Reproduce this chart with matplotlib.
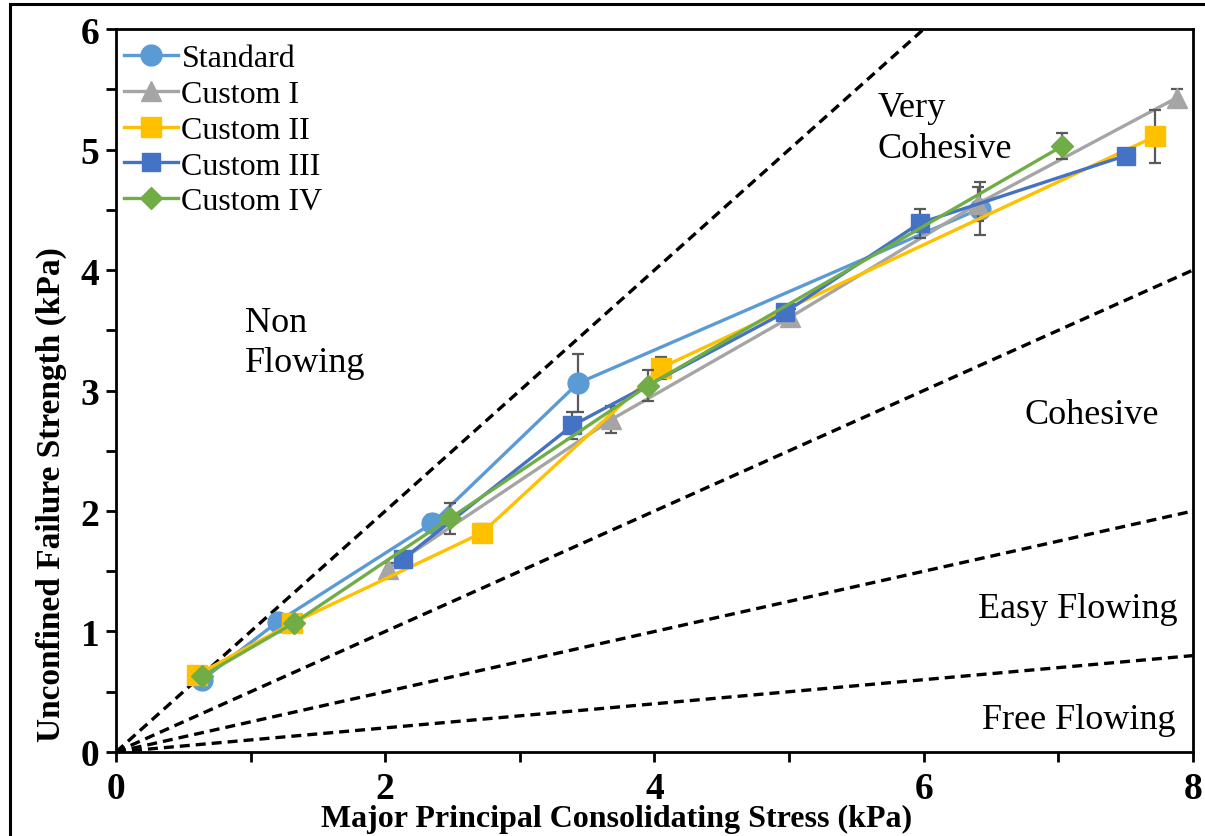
import numpy as np
import matplotlib.pyplot as plt
from matplotlib.patches import Rectangle
from matplotlib.ticker import MultipleLocator

plt.rcParams['font.family'] = ['Liberation Serif', 'DejaVu Serif']

# Flow-function data: major principal stress vs unconfined failure strength (kPa)
std_x = [0.64, 1.20, 2.35, 3.43, 6.42]
std_y = [0.60, 1.08, 1.90, 3.06, 4.51]
std_err = [0.03, 0.03, 0.07, 0.24, 0.22]

c1_x = [2.02, 3.68, 5.01, 6.40, 7.88]
c1_y = [1.52, 2.76, 3.61, 4.55, 5.43]
c1_err = [0.05, 0.11, 0.07, 0.14, 0.07]

c2_x = [0.60, 1.31, 2.72, 4.05, 7.72]
c2_y = [0.64, 1.07, 1.82, 3.19, 5.11]
c2_err = [0.03, 0.03, 0.07, 0.09, 0.22]

c3_x = [2.13, 3.39, 4.97, 5.97, 7.50]
c3_y = [1.60, 2.71, 3.65, 4.39, 4.95]
c3_err = [0.05, 0.11, 0.05, 0.12, 0.03]

c4_x = [0.64, 1.32, 2.48, 3.95, 7.03]
c4_y = [0.63, 1.07, 1.94, 3.04, 5.03]
c4_err = [0.03, 0.03, 0.13, 0.13, 0.11]

# Jenike flow-function boundaries (ffc = sigma1 / fc)
ffc_limits = [1, 2, 4, 10]

series = [
    ('Standard', std_x, std_y, std_err, '#5B9BD5', 'o', 15),
    ('Custom I', c1_x, c1_y, c1_err, '#A5A5A5', '^', 15),
    ('Custom II', c2_x, c2_y, c2_err, '#FFC000', 's', 14),
    ('Custom III', c3_x, c3_y, c3_err, '#4472C4', 's', 13),
    ('Custom IV', c4_x, c4_y, c4_err, '#70AD47', 'D', 11),
]

fig = plt.figure(figsize=(12.05, 8.37), dpi=100)
ax = fig.add_axes([0.0963, 0.1004, 0.8937, 0.8636])

sig = np.array([0, 8])
for ffc in ffc_limits:
    ax.plot(sig, sig / ffc, color='black', lw=2.4, dashes=(3, 1.8), zorder=1)

for i, (name, x, y, err, col, mk, ms) in enumerate(series):
    ax.errorbar(x, y, yerr=err, fmt='none', ecolor='#595959', elinewidth=1.6,
                capsize=4, capthick=1.6, zorder=2 + 2 * i)
    ax.plot(x, y, color=col, lw=2.4, marker=mk, markersize=ms,
            markeredgecolor=col, label=name, zorder=3 + 2 * i)

ax.text(0.96, 3.40, 'Non\nFlowing', fontsize=26, ha='left', va='center', linespacing=1.3)
ax.text(5.66, 5.18, 'Very\nCohesive', fontsize=26, ha='left', va='center', linespacing=1.35)
ax.text(6.75, 2.80, 'Cohesive', fontsize=26, ha='left', va='center')
ax.text(6.40, 1.19, 'Easy Flowing', fontsize=26, ha='left', va='center')
ax.text(6.43, 0.27, 'Free Flowing', fontsize=26, ha='left', va='center')

ax.set_xlim(0, 8)
ax.set_ylim(0, 6)
ax.xaxis.set_major_locator(MultipleLocator(2))
ax.xaxis.set_minor_locator(MultipleLocator(1))
ax.yaxis.set_major_locator(MultipleLocator(1))
ax.yaxis.set_minor_locator(MultipleLocator(0.5))
ax.tick_params(which='major', direction='out', length=7, width=2, labelsize=27)
ax.tick_params(which='minor', direction='out', length=7, width=2)
ax.tick_params(axis='x', pad=7)
ax.tick_params(axis='y', pad=5)
for lab in ax.get_xticklabels() + ax.get_yticklabels():
    lab.set_fontweight('bold')
for sp in ax.spines.values():
    sp.set_linewidth(2)

ax.set_xlabel('Major Principal Consolidating Stress (kPa)', fontsize=23,
              fontweight='bold')
ax.xaxis.set_label_coords(0.465, -0.072)
ax.set_ylabel('Unconfined Failure Strength (kPa)', fontsize=24,
              fontweight='bold')
ax.yaxis.set_label_coords(-0.046, 0.357)

ax.legend(loc='upper left', bbox_to_anchor=(-0.003, 0.995), frameon=False, fontsize=23,
          numpoints=1, handlelength=1.7, handletextpad=0.1, labelspacing=0.2,
          borderaxespad=0.15, borderpad=0.2)

# outer border around the figure
fig.add_artist(Rectangle((0.008, -0.05), 1.1, 1.044, transform=fig.transFigure,
                         fill=False, lw=2.2, edgecolor='black'))

fig.savefig('out.png', dpi=100)
